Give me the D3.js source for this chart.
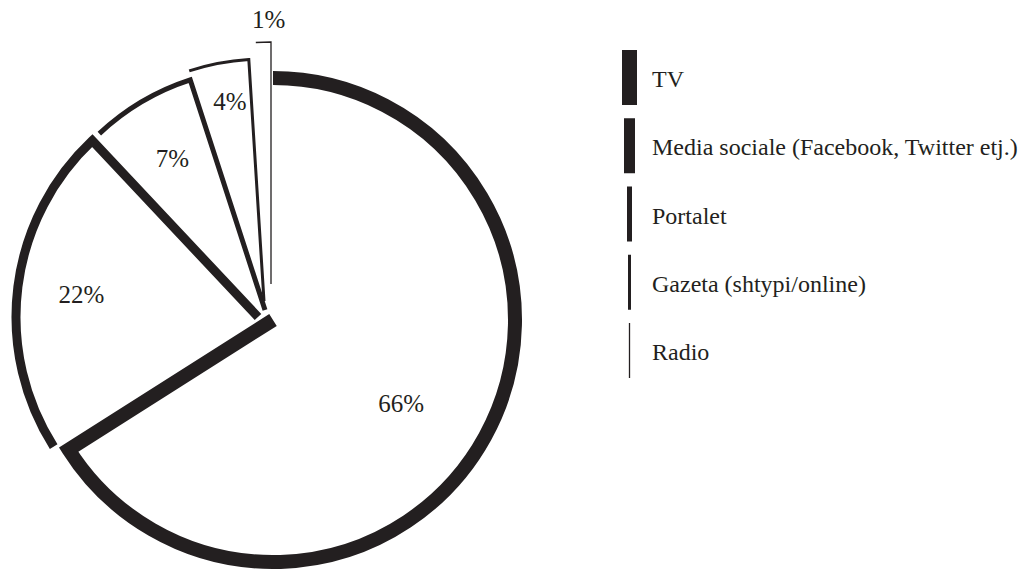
<!DOCTYPE html>
<html>
<head>
<meta charset="utf-8">
<script src="https://cdn.jsdelivr.net/npm/d3@7"></script>
<style>
  html, body { margin: 0; padding: 0; background: #fff; }
  svg { display: block; }
  text { font-family: "Liberation Serif", "Times New Roman", serif; fill: #231f20; }
</style>
</head>
<body>
<svg id="chart" width="1023" height="570"></svg>
<script>
// ---- data ----
const categories = ["TV", "Media sociale (Facebook, Twitter etj.)", "Portalet", "Gazeta (shtypi/online)", "Radio"];
const values = [66, 22, 7, 4, 1];
const valueLabels = ["66%", "22%", "7%", "4%", "1%"];

// ---- styles ----
const ink = "#231f20";
const strokeWidths = [14, 9, 5, 3, 1.3];
const swatchWidths = [15, 11, 5, 3, 1.3];
// per-slice explode offset (dx, dy) from the pie centre
const explodeX = [6, -9, -2, -3, 4];
const explodeY = [4, 1, -6, -15, -32];
const labelRadius = [153, 178, 178, 203, 265];
const labelNudgeX = [-6, 0, -2, 4, 6];
const labelNudgeY = [10, 0, 1, 0, 0];

const W = 1023, H = 570;
const cx = 267, cy = 316, R = 242;

const svg = d3.select("#chart");

const pie = d3.pie().sort(null).value(d => d.value);
const arcs = pie(categories.map((c, i) => ({ cat: c, value: values[i], i })));

const g = svg.append("g").attr("transform", `translate(${cx},${cy})`);

function slicePath(a) {
  const p = d3.path();
  const s = a.startAngle - Math.PI / 2, e = a.endAngle - Math.PI / 2;
  p.moveTo(R * Math.cos(s), R * Math.sin(s));
  p.arc(0, 0, R, s, e, false);
  p.lineTo(0, 0);
  return p.toString();
}

const slices = g.selectAll("g.slice").data(arcs).join("g")
  .attr("class", "slice")
  .attr("transform", d => `translate(${explodeX[d.index]},${explodeY[d.index]})`);

slices.append("path")
  .attr("d", slicePath)
  .attr("fill", "none")
  .attr("stroke", ink)
  .attr("stroke-width", d => strokeWidths[d.index])
  .attr("stroke-linejoin", "miter")
  .attr("stroke-miterlimit", 10)
  .attr("stroke-linecap", "butt");

slices.append("text")
  .attr("transform", d => {
    const c = d3.arc().innerRadius(0).outerRadius(2 * labelRadius[d.index]).centroid(d);
    return `translate(${c[0] + labelNudgeX[d.index]},${c[1] + labelNudgeY[d.index]})`;
  })
  .attr("text-anchor", "middle")
  .attr("dy", "0.35em")
  .attr("font-size", 25)
  .text(d => valueLabels[d.index]);

// ---- legend ----
const ly = d3.scalePoint().domain(categories).range([77.5, 350.5]);
const legend = svg.append("g");
const items = legend.selectAll("g").data(categories).join("g")
  .attr("transform", d => `translate(0,${ly(d)})`);
items.append("rect")
  .attr("x", (d, i) => 629.5 - swatchWidths[i] / 2)
  .attr("y", -27.5)
  .attr("width", (d, i) => swatchWidths[i])
  .attr("height", 55)
  .attr("fill", ink);
items.append("text")
  .attr("x", 652)
  .attr("y", 9.5)
  .attr("font-size", 24)
  .text(d => d);
</script>
</body>
</html>
